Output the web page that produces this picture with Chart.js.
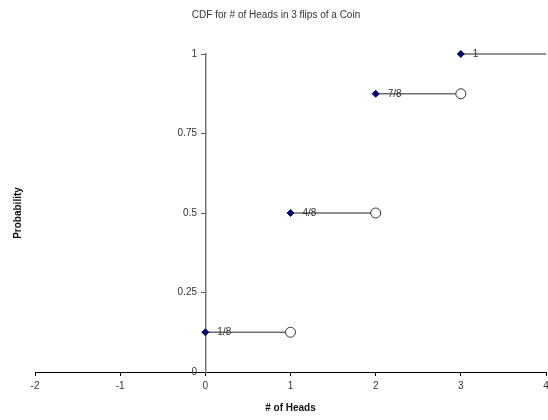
<!DOCTYPE html>
<html>
<head>
<meta charset="utf-8">
<script src="https://cdn.jsdelivr.net/npm/chart.js@4"></script>
<style>
    html, body { margin: 0; padding: 0; background: #fff; }
    #wrap { width: 548px; height: 420px; }
</style>
</head>
<body>
<div id="wrap"><canvas id="cdfChart" width="548" height="420"></canvas></div>
<script>
// Chart data
const heads = [0, 1, 2, 3];
const stepEnds = [1, 2, 3, 4];
const cdf = [0.125, 0.5, 0.875, 1];
const cdfLabels = ['1/8', '4/8', '7/8', '1'];
const xTicks = [-2, -1, 0, 1, 2, 3, 4];
const yTicks = [0, 0.25, 0.5, 0.75, 1];

const FONT = 'Liberation Sans, Arial, sans-serif';

// one line dataset per step of the CDF
const stepSets = heads.map((h, i) => ({
    type: 'line',
    data: [{x: h, y: cdf[i]}, {x: stepEnds[i], y: cdf[i]}],
    borderColor: '#6e6e6e',
    borderWidth: 1.5,
    pointRadius: 0,
    fill: false,
    clip: false,
    order: 3
}));

// filled diamonds at left end of each step
const closedSet = {
    type: 'scatter',
    data: heads.map((h, i) => ({x: h, y: cdf[i]})),
    pointStyle: 'rectRot',
    pointRadius: 3.5,
    backgroundColor: '#0a0a6e',
    borderColor: '#0a0a6e',
    borderWidth: 1,
    clip: false,
    order: 1
};

// open circles at right end (not for the last step)
const openSet = {
    type: 'scatter',
    data: stepEnds.slice(0, 3).map((e, i) => ({x: e, y: cdf[i]})),
    pointStyle: 'circle',
    pointRadius: 5,
    backgroundColor: '#ffffff',
    borderColor: '#333333',
    borderWidth: 1,
    clip: false,
    order: 2
};

// value labels next to the diamonds
const valueLabels = {
    id: 'valueLabels',
    afterDatasetsDraw(chart) {
        const ctx = chart.ctx;
        const xs = chart.scales.x, ys = chart.scales.y;
        ctx.save();
        ctx.font = '10px ' + FONT;
        ctx.fillStyle = '#333';
        ctx.textAlign = 'left';
        ctx.textBaseline = 'middle';
        heads.forEach((h, i) => {
            ctx.fillText(cdfLabels[i], xs.getPixelForValue(h) + 12, ys.getPixelForValue(cdf[i]));
        });
        ctx.restore();
    }
};

new Chart(document.getElementById('cdfChart'), {
    data: { datasets: [...stepSets, closedSet, openSet] },
    options: {
        responsive: false,
        animation: false,
        layout: { autoPadding: false, padding: { left: 6, right: 2, top: 0, bottom: 6 } },
        plugins: {
            legend: { display: false },
            tooltip: { enabled: false },
            title: {
                display: true,
                text: 'CDF for # of Heads in 3 flips of a Coin',
                color: '#333',
                font: { family: FONT, size: 10, weight: 'normal' },
                padding: { top: 9, bottom: 33 }
            }
        },
        scales: {
            x: {
                type: 'linear',
                position: 'bottom',
                min: xTicks[0],
                max: xTicks[xTicks.length - 1],
                afterBuildTicks: s => { s.ticks = xTicks.map(v => ({value: v})); },
                // let the last label ("4") run to the edge like the original
                afterFit: s => { s.paddingRight = 0; },
                grid: { drawOnChartArea: false, tickLength: 4, color: '#000' },
                border: { color: '#000', width: 1 },
                ticks: { color: '#333', font: { family: FONT, size: 10 }, padding: 4 },
                title: {
                    display: true,
                    text: '# of Heads',
                    color: '#111',
                    font: { family: FONT, size: 10, weight: 'bold' },
                    padding: { top: 6, bottom: 0 }
                }
            },
            y: {
                type: 'linear',
                position: { x: 0 },
                min: yTicks[0],
                max: yTicks[yTicks.length - 1],
                afterBuildTicks: s => { s.ticks = yTicks.map(v => ({value: v})); },
                grid: { drawOnChartArea: false, tickLength: 4, color: '#555' },
                border: { color: '#777', width: 1.5 },
                // centred axis puts labels flush with the line, so pad with spaces
                ticks: { color: '#333', font: { family: FONT, size: 10 }, callback: v => String(v) + '   ' }
            },
            yTitle: {
                type: 'linear',
                position: 'left',
                grid: { display: false, drawTicks: false },
                border: { display: false },
                ticks: { display: false },
                title: {
                    display: true,
                    text: 'Probability',
                    color: '#111',
                    font: { family: FONT, size: 10, weight: 'bold' },
                    padding: { top: 6, bottom: 11 }
                }
            }
        }
    },
    plugins: [valueLabels]
});
</script>
</body>
</html>
